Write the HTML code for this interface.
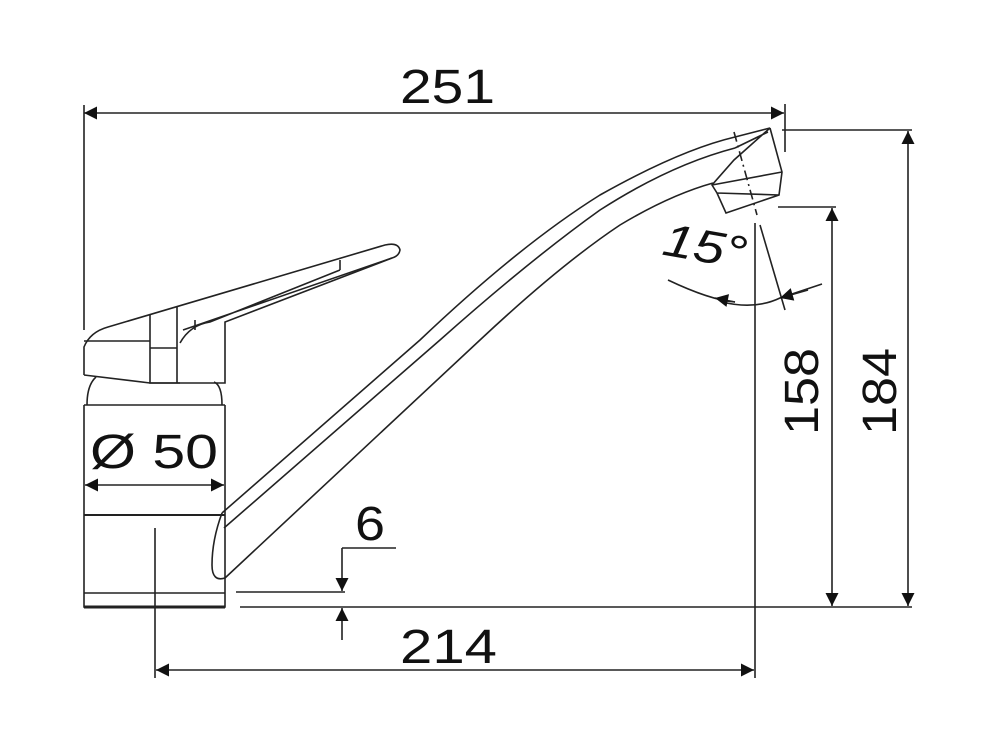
<!DOCTYPE html>
<html><head><meta charset="utf-8"><style>
html,body{margin:0;padding:0;background:#fff}
svg{display:block}
text{font-family:"Liberation Sans",Arial,sans-serif;fill:#111}
</style></head><body>
<svg width="1000" height="750" viewBox="0 0 1000 750" xmlns="http://www.w3.org/2000/svg">
<defs>
<marker id="a" viewBox="0 0 10 10" refX="10" refY="5" markerWidth="30" markerHeight="13" markerUnits="userSpaceOnUse" orient="auto-start-reverse"><path d="M0,0L10,5L0,10z" fill="#111"/></marker>
</defs>
<g stroke="#222" stroke-width="1.6" fill="none">
<line x1="84" y1="113" x2="784" y2="113" marker-start="url(#a)" marker-end="url(#a)"/>
<line x1="84" y1="105" x2="84" y2="330"/>
<line x1="785" y1="104" x2="785" y2="152"/>
<line x1="782" y1="130" x2="912" y2="130"/>
<line x1="908" y1="131" x2="908" y2="606" marker-start="url(#a)" marker-end="url(#a)"/>
<line x1="778" y1="207" x2="836" y2="207"/>
<line x1="832" y1="208" x2="832" y2="606" marker-start="url(#a)" marker-end="url(#a)"/>
<line x1="240" y1="607" x2="912" y2="607"/>
<line x1="236" y1="592" x2="345" y2="592"/>
<line x1="396" y1="548" x2="342" y2="548"/>
<line x1="342" y1="548" x2="342" y2="591" marker-end="url(#a)"/>
<line x1="342" y1="640" x2="342" y2="608" marker-end="url(#a)"/>
<line x1="156" y1="670" x2="754" y2="670" marker-start="url(#a)" marker-end="url(#a)"/>
<line x1="155" y1="528" x2="155" y2="678"/>
<line x1="755" y1="223" x2="755" y2="678"/>
<line x1="85" y1="485" x2="224" y2="485" marker-start="url(#a)" marker-end="url(#a)"/>
<path d="M84,405 V607 H225 V405 M84,405 H225 M87,405 Q87,385 96,377 M222,405 Q222,385 214,382"/>
<line x1="84" y1="515" x2="225" y2="515" stroke-width="2"/>
<line x1="84" y1="593" x2="225" y2="593"/>
<line x1="84" y1="607" x2="225" y2="607" stroke-width="3"/>
<path d="M84,375 V347 Q90,332 108,327 L385,245 Q398,242 400,250 Q399,256 392,258 L225,322 V383 H150 L84,375"/>
<path d="M84,341 H150 V383 M150,315 V383 H180 M177,306 V383 M150,348 H177"/>
<path d="M180,343 Q190,325 210,322 L340,270 M340,260 V270 M183,330 L392,258 M195,320 V330"/>
<path d="M222,513 L420,340 Q520,245 600,195 Q680,150 735,137 L770,128"/>
<path d="M224,528 L440,340 Q530,260 600,210 Q670,165 735,148"/>
<path d="M225,578 L480,340 Q560,265 620,225 Q670,195 713,183"/>
<path d="M222,513 Q212,540 212,565 Q212,582 225,578"/>
<path d="M770,128 L782,172 L779,195 L726,213 L717,193 L712,185 L734,160 L770,128 M712,185 L782,172 M717,193 L779,195 M735,148 L768,132"/>
<line x1="734" y1="132" x2="757" y2="215" stroke-dasharray="10,4,2,4"/>
<line x1="760" y1="225" x2="785" y2="310"/>
<path d="M668,280 Q710,300 735,302" />
<path d="M722,302 Q755,310 780,298 L822,284" />
<path d="M735,302 L715,298" marker-end="url(#a)"/>
<path d="M780,298 L808,290" marker-start="url(#a)"/>
</g>
<text x="400" y="103" font-size="48" textLength="95" lengthAdjust="spacingAndGlyphs">251</text>
<text x="400" y="663" font-size="48" textLength="97" lengthAdjust="spacingAndGlyphs">214</text>
<text x="355" y="540" font-size="48" textLength="30" lengthAdjust="spacingAndGlyphs">6</text>
<text x="90" y="468" font-size="48" textLength="128" lengthAdjust="spacingAndGlyphs">Ø 50</text>
<text x="662" y="262" font-size="46" textLength="84" lengthAdjust="spacingAndGlyphs" transform="rotate(10 705 252)" font-style="italic">15°</text>
<text transform="translate(818,435) rotate(-90)" font-size="48" textLength="87" lengthAdjust="spacingAndGlyphs">158</text>
<text transform="translate(896,435) rotate(-90)" font-size="48" textLength="87" lengthAdjust="spacingAndGlyphs">184</text>
</svg>
</body></html>
